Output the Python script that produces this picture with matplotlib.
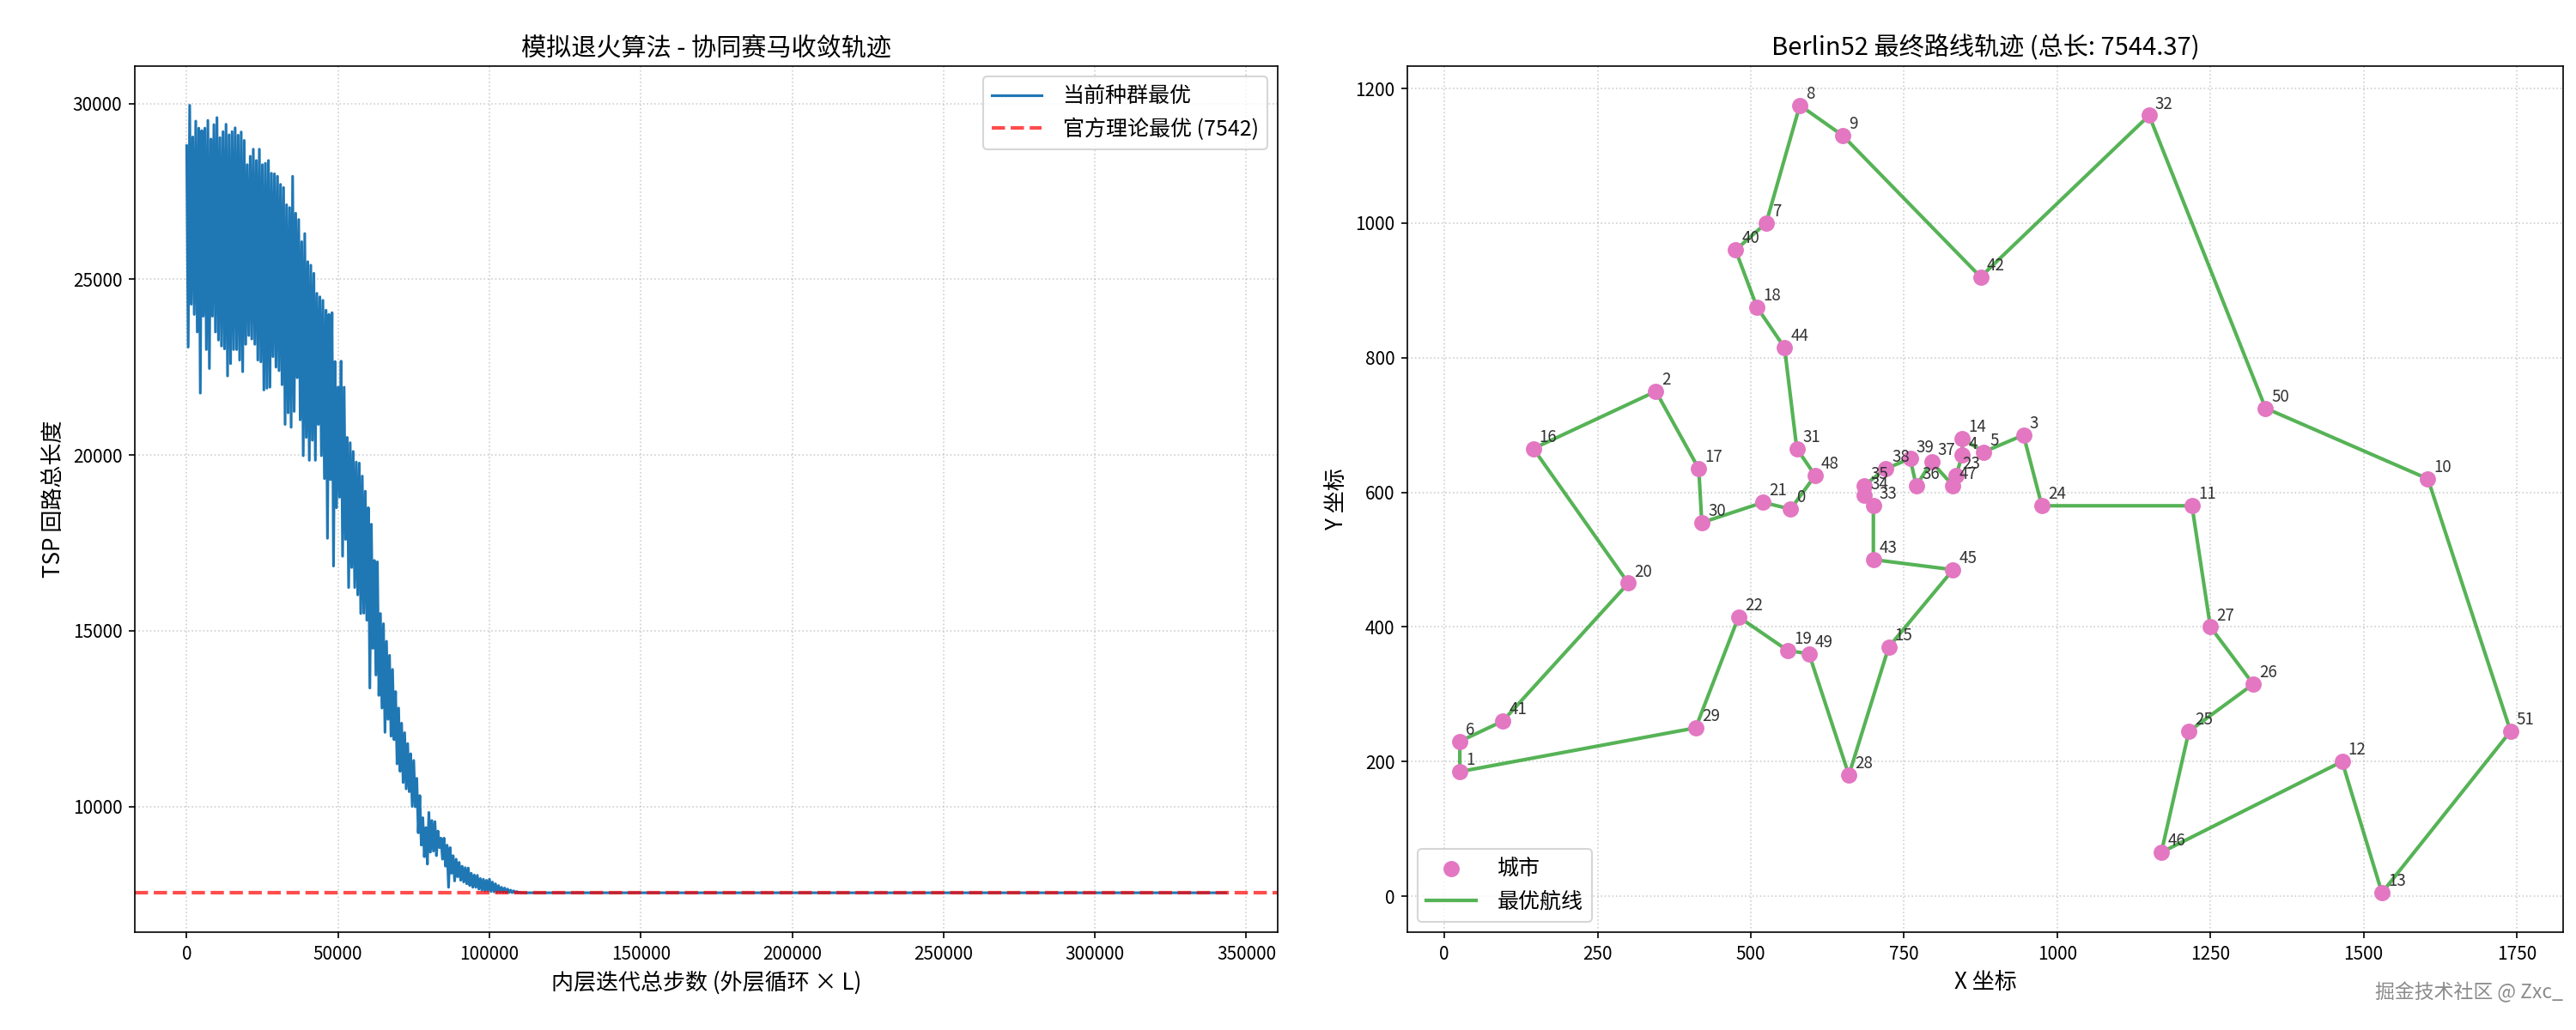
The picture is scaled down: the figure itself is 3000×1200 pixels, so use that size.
import numpy as np
import matplotlib.pyplot as plt

plt.rcParams['font.family'] = ['Noto Sans CJK SC', 'DejaVu Sans']
plt.rcParams['axes.unicode_minus'] = False

# ================================================================
# 数据：收敛曲线（每 1000 步读一个峰值，+500 步读一个谷值）
# ================================================================
SAMPLE_STEP = 1000
PEAK_LEN = [28800, 29950, 29050, 29500, 29300, 29230, 29300, 29520, 28990, 29400,
            29600, 29030, 29200, 29410, 29110, 29200, 29310, 29100, 29190, 28950,
            28260, 28500, 28700, 28380, 28700, 28260, 28300, 28380, 28015, 28000,
            27930, 27700, 27610, 27120, 27040, 27930, 26880, 26700, 26070, 26300,
            25500, 25400, 25170, 24600, 24500, 24400, 24120, 24000, 24050, 22660,
            21930, 22670, 21930, 20500, 20350, 20100, 19800, 19770, 19400, 18970,
            18500, 18030, 17000, 16960, 15490, 15200, 14700, 14300, 13900, 13270,
            12800, 12370, 12100, 11790, 11500, 11310, 10800, 10310, 9680, 9400,
            9830, 9600, 9570, 9300, 9100, 9100, 8900, 8830, 8600, 8500,
            8410, 8300, 8260, 8250, 8100, 8050, 8040, 7950, 7930, 7900,
            7930, 7850, 7800, 7750, 7700, 7680, 7650, 7620, 7600, 7580,
            7560]
TROUGH_LEN = [23070, 24290, 24000, 23500, 21760, 23950, 23000, 22460, 23950, 23500,
              23270, 23100, 23020, 22250, 22600, 23000, 23000, 22700, 22370, 23150,
              23400, 23300, 23150, 22700, 22650, 21850, 21900, 21930, 22800, 22500,
              22400, 22000, 20870, 21200, 20790, 21240, 22200, 21000, 19980, 20500,
              19850, 20420, 19850, 20870, 19980, 19330, 17630, 19300, 16840, 18500,
              18800, 17120, 17600, 16230, 16800, 16230, 16020, 15490, 15500, 15300,
              13370, 14500, 13740, 13160, 12800, 12110, 12480, 12000, 11900, 11210,
              11000, 10680, 10500, 10420, 10000, 9990, 9250, 8900, 8570, 8360,
              8700, 8730, 8600, 8830, 8500, 8300, 7700, 8100, 7880, 8000,
              7900, 7850, 7800, 7750, 7700, 7700, 7650, 7620, 7600, 7600,
              7580, 7570, 7560, 7560, 7555, 7550, 7550, 7548, 7546, 7545,
              7544.37]
FINAL_BEST = 7544.37
TOTAL_STEPS = 343200
OPT_LEN = 7542

# ================================================================
# 数据：Berlin52 城市坐标与最优路线
# ================================================================
CITY_X = [565, 25, 345, 945, 845, 880, 25, 525, 580, 650, 1605, 1220, 1465, 1530,
          845, 725, 145, 415, 510, 560, 300, 520, 480, 835, 975, 1215, 1320, 1250,
          660, 410, 420, 575, 1150, 700, 685, 685, 770, 795, 720, 760, 475, 95,
          875, 700, 555, 830, 1170, 830, 605, 595, 1340, 1740]
CITY_Y = [575, 185, 750, 685, 655, 660, 230, 1000, 1175, 1130, 620, 580, 200, 5,
          680, 370, 665, 635, 875, 365, 465, 585, 415, 625, 580, 245, 315, 400,
          180, 250, 555, 665, 1160, 580, 595, 610, 610, 645, 635, 650, 960, 260,
          920, 500, 815, 485, 65, 610, 625, 360, 725, 245]
TOUR = [0, 48, 31, 44, 18, 40, 7, 8, 9, 42, 32, 50, 10, 51, 13, 12, 46, 25, 26,
        27, 11, 24, 3, 5, 14, 4, 23, 47, 37, 36, 39, 38, 35, 34, 33, 43, 45, 15,
        28, 49, 19, 22, 29, 1, 6, 41, 20, 16, 2, 17, 30, 21]

# ---- 组装曲线：峰谷交替 ----
n = len(PEAK_LEN)
steps = np.empty(2 * n)
lengths = np.empty(2 * n)
steps[0::2] = np.arange(n) * SAMPLE_STEP
steps[1::2] = np.arange(n) * SAMPLE_STEP + SAMPLE_STEP / 2
lengths[0::2] = PEAK_LEN
lengths[1::2] = TROUGH_LEN
steps = np.append(steps, TOTAL_STEPS)
lengths = np.append(lengths, FINAL_BEST)

fig = plt.figure(figsize=(20, 8), dpi=150)
ax1 = fig.add_axes([0.0523, 0.095, 0.4437, 0.841])
ax2 = fig.add_axes([0.5463, 0.095, 0.4487, 0.841])

# 左图：收敛轨迹
ax1.plot(steps, lengths, color='#1f77b4', lw=1.5, label='当前种群最优')
ax1.axhline(OPT_LEN, color='red', linestyle='--', lw=2, alpha=0.7,
            label=f'官方理论最优 ({OPT_LEN})')
ax1.set_title('模拟退火算法 - 协同赛马收敛轨迹', fontsize=14)
ax1.set_xlabel('内层迭代总步数 (外层循环 × L)', fontsize=12.5)
ax1.set_ylabel('TSP 回路总长度', fontsize=12.5)
ax1.legend(fontsize=12, handlelength=2.3, handletextpad=1.0)
ax1.grid(True, linestyle=':', alpha=0.6)

# 右图：最终路线
cx = np.array(CITY_X)
cy = np.array(CITY_Y)
route = TOUR + [TOUR[0]]
rx, ry = cx[route], cy[route]
total_len = np.sum(np.hypot(np.diff(rx), np.diff(ry)))

ax2.scatter(cx, cy, c='#e377c2', s=65, zorder=3, label='城市')
ax2.plot(rx, ry, color='tab:green', lw=2, alpha=0.8, label='最优航线')
for i, (x, y) in enumerate(zip(cx, cy)):
    ax2.text(x + 10, y + 10, str(i), fontsize=9, color='#333333')
ax2.set_title(f'Berlin52 最终路线轨迹 (总长: {total_len:.2f})', fontsize=14)
ax2.set_xlabel('X 坐标', fontsize=12.5)
ax2.set_ylabel('Y 坐标', fontsize=12.5)
ax2.legend(loc='lower left', fontsize=12, handlelength=2.3, handletextpad=1.0)
ax2.grid(True, linestyle=':', alpha=0.6)

fig.text(0.995, 0.037, '掘金技术社区 @ Zxc_', ha='right', va='center',
         fontsize=11, color='#8c8c8c')
plt.savefig('out.png', dpi=150)
